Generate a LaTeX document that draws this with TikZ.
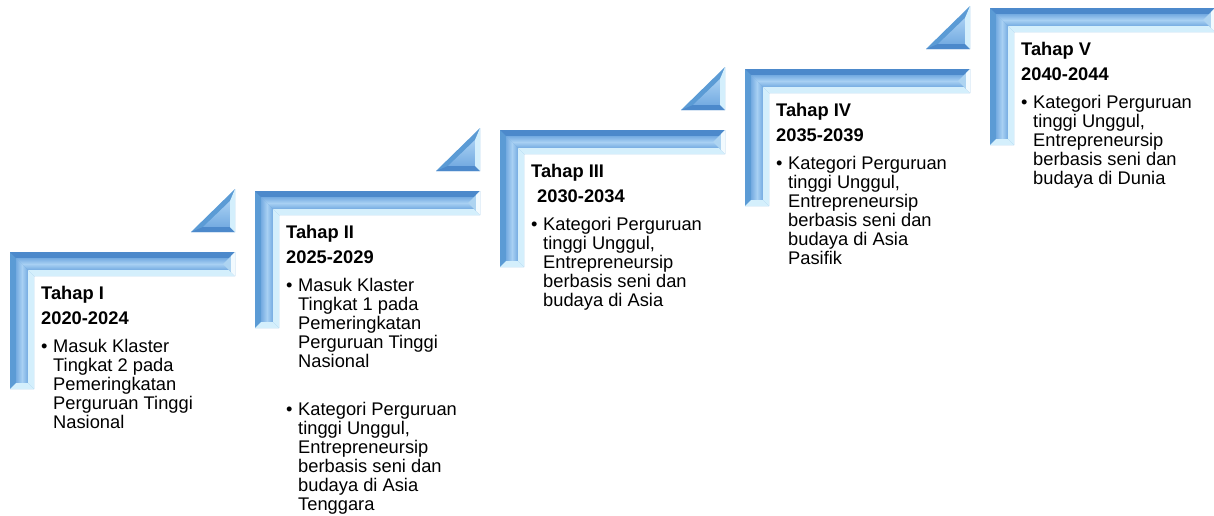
\documentclass[tikz,border=0pt]{standalone}
\usepackage{fontspec}
\setmainfont{Liberation Sans}
\definecolor{bmid}{HTML}{5B9BD5}
\definecolor{bdark}{HTML}{4C89CB}
\definecolor{bface}{HTML}{74ABE1}
\definecolor{bfacel}{HTML}{A8D0F3}
\definecolor{blight}{HTML}{D4EFFC}
\tikzset{
  ttl/.style={anchor=base west, inner sep=0pt, font=\fontsize{18.3}{19}\selectfont\bfseries},
  btxt/.style={anchor=north west, inner sep=0pt, align=left, font=\fontsize{18.3}{19}\selectfont},
  bul/.style={anchor=base west, inner sep=0pt, font=\fontsize{18.3}{19}\selectfont},
}
\newcommand\stageshape[2]{%
\begin{scope}[shift={(#1,#2)}]
  \fill[bmid] (0,0) -- (225,0) -- (225,24) -- (24,24) -- (24,137) -- (0,137) -- cycle;
  \fill[bdark] (0,0) -- (225,0) -- (219,6) -- (6,6) -- cycle;
  \shade[top color=bface, bottom color=bface, middle color=bfacel] (6,6) -- (219,6) -- (219,18) -- (18,18) -- cycle;
  \shade[left color=bface, right color=bface, middle color=bfacel] (6,6) -- (18,18) -- (18,131) -- (6,131) -- cycle;
  \fill[blight] (18,18) -- (219,18) -- (225,24) -- (24,24) -- cycle;
  \fill[blight] (18,18) -- (24,24) -- (24,137) -- (18,131) -- cycle;
  \fill[blight!60!bface] (213,12) -- (225,0) -- (225,24) -- cycle;
  \fill[white!70!blight] (221,4) -- (225,0) -- (225,24) -- (221,20) -- cycle;
  \fill[blight] (6,131) -- (18,131) -- (24,137) -- (0,137) -- cycle;
  \fill[bmid] (181,-20) -- (225,-20) -- (225,-63) -- cycle;
  \shade[top color=bfacel, bottom color=bface] (193,-25) -- (220,-25) -- (220,-51) -- cycle;
  \fill[bdark] (181,-20) -- (225,-20) -- (220,-25) -- (193,-25) -- cycle;
  \fill[blight] (225,-63) -- (225,-20) -- (220,-25) -- (220,-51) -- cycle;
\end{scope}}
\begin{document}
\begin{tikzpicture}[x=1pt,y=-1pt]
\useasboundingbox (0,0) rectangle (1214,515);
\stageshape{10}{252}
\stageshape{255}{191}
\stageshape{500}{130}
\stageshape{745}{69}
\stageshape{990}{8}
% Stage 1
\node[ttl] (t1) at (41,299.7) {Tahap I};
\node[ttl] (y1) at (41,324.7) {2020-2024};
\node[bul] (u1) at (41,352) {•};
\node[btxt] (b1) at (53,338) {\rule{0pt}{14pt}Masuk Klaster\\Tingkat 2 pada\\Pemeringkatan\\Perguruan Tinggi\\Nasional};
% Stage 2
\node[ttl] (t2) at (286,238.7) {Tahap II};
\node[ttl] (y2) at (286,263.7) {2025-2029};
\node[bul] (u2) at (286,291) {•};
\node[btxt] (b2) at (298,277) {\rule{0pt}{14pt}Masuk Klaster\\Tingkat 1 pada\\Pemeringkatan\\Perguruan Tinggi\\Nasional};
\node[bul] (u2b) at (286,415) {•};
\node[btxt] (b2b) at (298,401) {\rule{0pt}{14pt}Kategori Perguruan\\tinggi Unggul,\\Entrepreneursip\\berbasis seni dan\\budaya di Asia\\Tenggara};
% Stage 3
\node[ttl] (t3) at (531,177.7) {Tahap III};
\node[ttl] (y3) at (537,202.7) {2030-2034};
\node[bul] (u3) at (531,230) {•};
\node[btxt] (b3) at (543,216) {\rule{0pt}{14pt}Kategori Perguruan\\tinggi Unggul,\\Entrepreneursip\\berbasis seni dan\\budaya di Asia};
% Stage 4
\node[ttl] (t4) at (776,116.7) {Tahap IV};
\node[ttl] (y4) at (776,141.7) {2035-2039};
\node[bul] (u4) at (776,169) {•};
\node[btxt] (b4) at (788,155) {\rule{0pt}{14pt}Kategori Perguruan\\tinggi Unggul,\\Entrepreneursip\\berbasis seni dan\\budaya di Asia\\Pasifik};
% Stage 5
\node[ttl] (t5) at (1021,55.7) {Tahap V};
\node[ttl] (y5) at (1021,80.7) {2040-2044};
\node[bul] (u5) at (1021,108) {•};
\node[btxt] (b5) at (1033,94) {\rule{0pt}{14pt}Kategori Perguruan\\tinggi Unggul,\\Entrepreneursip\\berbasis seni dan\\budaya di Dunia};
\end{tikzpicture}
\end{document}
